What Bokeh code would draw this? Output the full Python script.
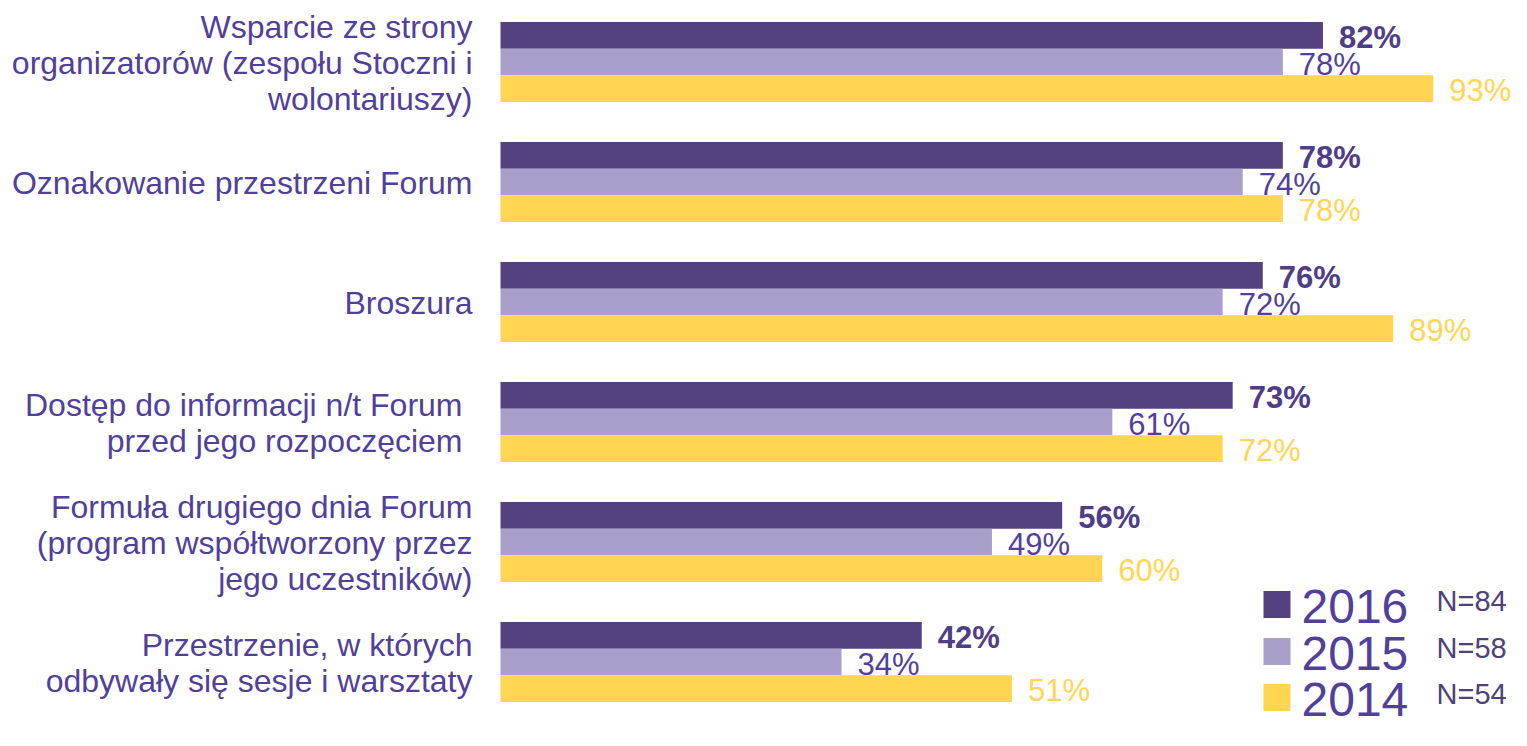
from bokeh.plotting import figure
from bokeh.models import Range1d, ColumnDataSource
from bokeh.core.properties import value
from bokeh.embed import file_html
from bokeh.resources import INLINE

# ---- data ----
categories = [
    "Wsparcie ze strony\norganizatorów (zespołu Stoczni i\nwolontariuszy)",
    "Oznakowanie przestrzeni Forum",
    "Broszura",
    "Dostęp do informacji n/t Forum\nprzed jego rozpoczęciem",
    "Formuła drugiego dnia Forum\n(program współtworzony przez\njego uczestników)",
    "Przestrzenie, w których\nodbywały się sesje i warsztaty",
]
v2016 = [82, 78, 76, 73, 56, 42]
v2015 = [78, 74, 72, 61, 49, 34]
v2014 = [93, 78, 89, 72, 60, 51]
years = ["2016", "2015", "2014"]
sample_sizes = ["N=84", "N=58", "N=54"]

# ---- style ----
bar_colors = ["#54417F", "#A99FCA", "#FFD551"]
label_colors = ["#4F3D86", "#51409A", "#FFD551"]
text_color = "#51409A"
FONT = "Liberation Sans"
label_shift = [0, 0, 0, -10, 0, 0]   # px shift of category labels

W, H = 1511, 730
S = 10.03      # px per percent
X0 = 500       # px position of 0 %
GAP = 120.0    # px per category
Y0 = 61.5      # px centre of first category
BAR_H = 26.7 / GAP

def px2x(px):
    return (px - X0) / S

def px2y(py):
    return (py - Y0) / GAP

p = figure(width=W, height=H, output_backend="svg", toolbar_location=None,
           x_range=Range1d(px2x(0), px2x(W)), y_range=Range1d(px2y(H), px2y(0)),
           min_border=0)
p.axis.visible = False
p.xgrid.visible = False
p.ygrid.visible = False
p.outline_line_color = None
p.background_fill_color = "white"
p.border_fill_color = "white"

idx = list(range(len(categories)))
series = [v2016, v2015, v2014]
offsets = [-BAR_H, 0.0, BAR_H]

for k, vals in enumerate(series):
    ys = [i + offsets[k] for i in idx]
    src = ColumnDataSource(dict(y=ys, v=vals, t=[f"{v}%" for v in vals]))
    p.hbar(y="y", left=0, right="v", height=BAR_H, source=src,
           fill_color=bar_colors[k], line_color=None)
    p.text(x="v", y="y", text="t", source=src, x_offset=16, y_offset=2,
           text_baseline="middle", text_align="left",
           text_font=value(FONT), text_font_size="31px",
           text_font_style="bold" if k == 0 else "normal",
           text_color=label_colors[k])

# category labels (multi-line, right-aligned)
LINE_H = 36.0 / GAP
lx, ly, lt, lo = [], [], [], []
for i, cat in enumerate(categories):
    lines = cat.split("\n")
    n = len(lines)
    for j, line in enumerate(lines):
        lx.append(0)
        ly.append(i + (j - (n - 1) / 2) * LINE_H)
        lt.append(line)
        lo.append(-28 + label_shift[i])
p.text(x=lx, y=ly, text=lt, x_offset=lo, y_offset=1,
       text_align="right", text_baseline="middle",
       text_font=value(FONT), text_font_size="32px", text_color=text_color)

# legend (manual, kept inside the canvas)
rows_px = [604, 651, 697]
ry = [px2y(r) for r in rows_px]
p.scatter(x=[px2x(1276.5)] * 3, y=ry, marker="square", size=27,
          fill_color=bar_colors, line_color=None)
p.text(x=[px2x(1301)] * 3, y=ry, text=years, y_offset=2,
       text_align="left", text_baseline="middle",
       text_font=value(FONT), text_font_size="48px", text_color=text_color)
p.text(x=[px2x(1436)] * 3, y=ry, text=sample_sizes, y_offset=-4,
       text_align="left", text_baseline="middle",
       text_font=value(FONT), text_font_size="29px", text_color="#4E4278")

open("out.html", "w").write(file_html(p, INLINE))
